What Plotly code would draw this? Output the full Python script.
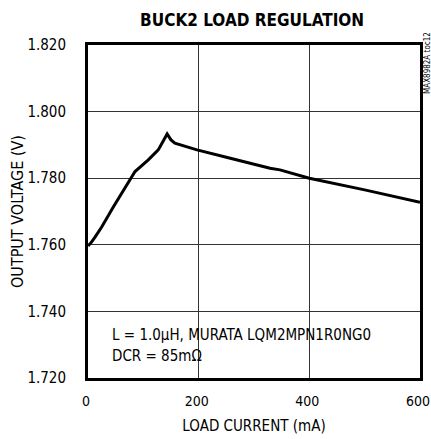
import plotly.graph_objects as go

load_current_ma = [0, 5, 13, 25, 46, 76, 85, 109, 127, 143, 150, 157, 197, 250, 329, 347, 400, 500, 600]
output_voltage_v = [1.7597, 1.7605, 1.7624, 1.7654, 1.7714, 1.7795, 1.7820, 1.7855, 1.7885, 1.7933,
                    1.7915, 1.7905, 1.7885, 1.7863, 1.7830, 1.7825, 1.7800, 1.7765, 1.7728]

x_ticks = [0, 200, 400, 600]
y_ticks = [1.72, 1.74, 1.76, 1.78, 1.80, 1.82]

FONT = "DejaVu Sans Condensed, Liberation Sans Narrow, sans-serif"

fig = go.Figure()
fig.add_trace(go.Scatter(x=load_current_ma, y=output_voltage_v, mode="lines",
                         line=dict(color="black", width=3), hoverinfo="skip", showlegend=False))

fig.update_layout(
    width=431, height=439,
    margin=dict(l=88, r=11, t=45, b=61, autoexpand=False),
    paper_bgcolor="white", plot_bgcolor="white",
    font=dict(family=FONT, color="black", size=15),
    title=dict(text="<b>BUCK2 LOAD REGULATION</b>", x=0.585, xanchor="center",
               y=0.955, yanchor="middle", yref="container",
               font=dict(family=FONT, size=17, color="black")),
    xaxis=dict(range=[0, 600], tickvals=x_ticks, ticktext=[str(v) for v in x_ticks],
               showgrid=True, gridcolor="#333", gridwidth=1, zeroline=False,
               showline=True, linecolor="black", linewidth=3, mirror=True, automargin=False,
               ticks="", ticklen=0, ticklabelstandoff=8, ticklabelshift=-2, tickfont=dict(size=14),
               ticklabeloverflow="allow",
               title=dict(text="LOAD CURRENT (mA)", font=dict(size=15), standoff=13)),
    yaxis=dict(range=[1.72, 1.82], tickvals=y_ticks, ticktext=["%.3f" % v for v in y_ticks],
               showgrid=True, gridcolor="#333", gridwidth=1, zeroline=False,
               showline=True, linecolor="black", linewidth=3, mirror=True, automargin=False,
               ticks="", ticklen=0, ticklabelstandoff=16, tickfont=dict(size=15),
               ticklabeloverflow="allow",
               title=dict(text="OUTPUT VOLTAGE (V)", font=dict(size=16), standoff=0)),
    annotations=[
        dict(text="L = 1.0µH, MURATA LQM2MPN1R0NG0", xref="paper", yref="paper",
             x=0.066, y=(378 - 335) / 333, xanchor="left", yanchor="middle", showarrow=False,
             font=dict(size=15)),
        dict(text="DCR = 85mΩ", xref="paper", yref="paper",
             x=0.066, y=(378 - 356) / 333, xanchor="left", yanchor="middle", showarrow=False,
             font=dict(size=15)),
        dict(text="MAX8982A toc12", xref="paper", yref="paper",
             x=1.0, xshift=7, y=(378 - 30) / 333, xanchor="center", yanchor="top", textangle=-90,
             showarrow=False, font=dict(size=8)),
    ],
)

fig.write_html("out.html", config={"displayModeBar": False},
               post_script="document.body.style.margin='0';document.body.style.overflow='hidden';")
